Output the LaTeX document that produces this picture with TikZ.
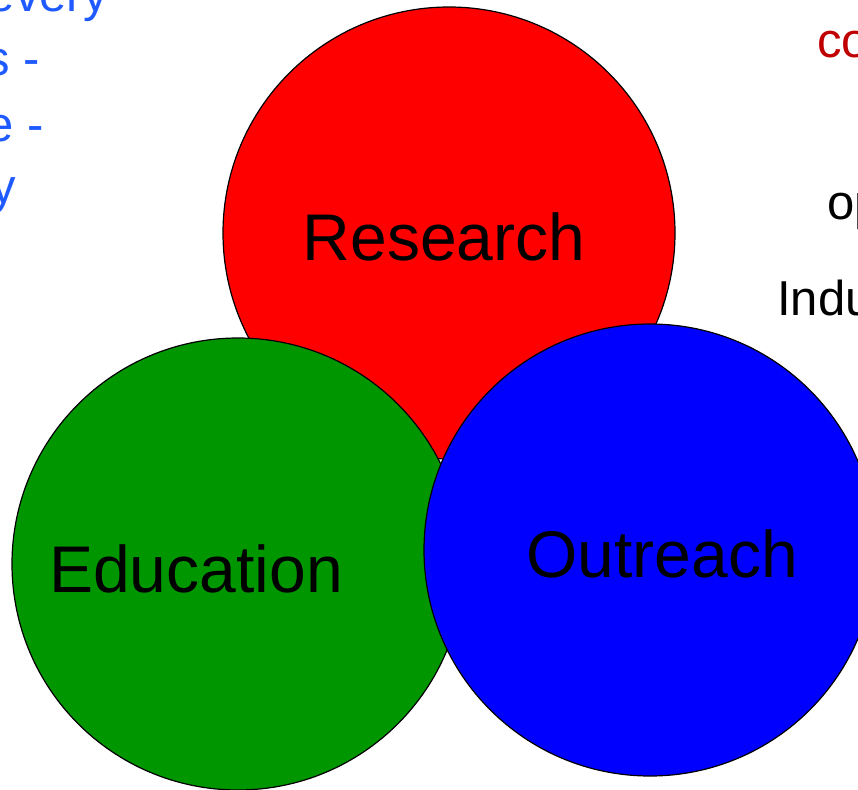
\documentclass[tikz,border=0pt]{standalone}
\usepackage{fontspec}
\setmainfont{Liberation Sans}
\definecolor{redfill}{RGB}{255,0,0}
\definecolor{greenfill}{RGB}{0,150,0}
\definecolor{bluefill}{RGB}{0,0,255}
\definecolor{bluetext}{RGB}{30,90,255}
\definecolor{redtext}{RGB}{192,0,0}
\begin{document}
\begin{tikzpicture}[x=1pt,y=-1pt,
    bubble/.style={draw=black,line width=1.2pt,circle,inner sep=0pt,outer sep=0pt,minimum size=452pt},
    biglbl/.style={inner sep=0pt,anchor=base,font=\fontsize{66}{78}\selectfont},
    sidelbl/.style={inner sep=0pt,font=\fontsize{49}{60}\selectfont}]
    \useasboundingbox (0,0) rectangle (858,789);
    \clip (0,0) rectangle (858,789);

    % the three circles
    \node[bubble,fill=redfill] (research) at (449,233) {};
    \node[bubble,fill=greenfill] (education) at (238,564) {};
    \node[bubble,fill=bluefill] (outreach) at (650,550) {};

    \node[biglbl] (researchlbl) at (444,260) {Research};
    \node[biglbl] (educationlbl) at (196,592) {Education};
    \node[biglbl] (outreachlbl) at (662,577) {Outreach};

    % cut-off text at the left
    \node[sidelbl,anchor=base east,text=bluetext] (lineone) at (108,12) {every};
    \node[sidelbl,anchor=base east,text=bluetext] (linetwo) at (40,76) {s -};
    \node[sidelbl,anchor=base east,text=bluetext] (linethree) at (44,141) {e -};
    \node[sidelbl,anchor=base east,text=bluetext] (linefour) at (16,203) {y};

    % cut-off text at the right
    \node[sidelbl,anchor=base west,text=redtext] (rightone) at (817,58) {co};
    \node[sidelbl,anchor=base west] (righttwo) at (827,219) {op};
    \node[sidelbl,anchor=base west] (rightthree) at (777,315) {Indu};
\end{tikzpicture}
\end{document}
